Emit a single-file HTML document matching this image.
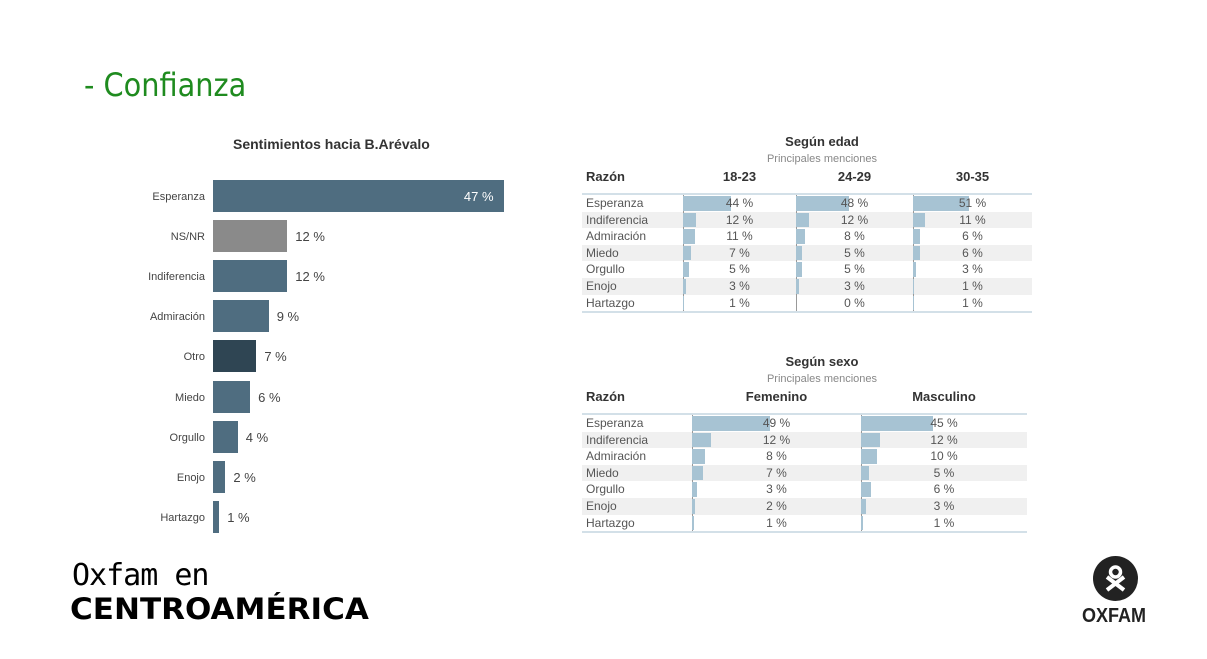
<!DOCTYPE html>
<html><head><meta charset="utf-8"><style>
body{margin:0;width:1207px;height:659px;background:#fff;position:relative;overflow:hidden;font-family:"Liberation Sans",Arial,sans-serif}
.a{position:absolute}
.lab{position:absolute;right:1002px;font-size:11px;color:#444;text-align:right;white-space:nowrap}
.bar{position:absolute;left:213px;height:32px;background:#4f6d80}
.val{position:absolute;font-size:13px;color:#444}
.t{position:absolute;font-size:12px;color:#555}
.hd{position:absolute;font-size:13px;font-weight:bold;color:#333}
</style></head><body>
<div class="a" style="left:84px;top:66px;font-size:32px;color:#1f8b1f;font-family:'DejaVu Sans Condensed','Liberation Sans',sans-serif">- Confianza</div>
<div class="a" style="left:233px;top:136px;font-size:14px;font-weight:bold;color:#333">Sentimientos hacia B.Arévalo</div>
<div id="left"></div>

<div class="a" style="left:582px;top:134px;width:480px;text-align:center;font-size:13px;font-weight:bold;color:#333">Según edad</div>
<div class="a" style="left:582px;top:153px;width:480px;text-align:center;font-size:11px;color:#888">Principales menciones</div>
<div id="t1"></div>

<div class="a" style="left:582px;top:354px;width:480px;text-align:center;font-size:13px;font-weight:bold;color:#333">Según sexo</div>
<div class="a" style="left:582px;top:373px;width:480px;text-align:center;font-size:11px;color:#888">Principales menciones</div>
<div id="t2"></div>

<div class="a" style="left:72px;top:558px;font-size:30px;color:#000;font-family:'DejaVu Sans Mono','Liberation Mono',monospace;letter-spacing:-1px">Oxfam en</div>
<div class="a" style="left:70px;top:592px;font-size:29px;font-weight:900;color:#000;font-family:'DejaVu Sans','Liberation Sans',sans-serif;transform:scaleX(1.07);transform-origin:left">CENTROAMÉRICA</div>

<div class="a" style="left:1093px;top:556px;width:45px;height:45px;border-radius:50%;background:#222"></div>
<svg class="a" style="left:1093px;top:556px" width="45" height="45"><circle cx="22.5" cy="16" r="5" fill="none" stroke="#fff" stroke-width="3.5"/><path d="M14 34 L31 21 M31 34 L14 21" stroke="#fff" stroke-width="4"/></svg>
<div class="a" style="left:1082px;top:605px;font-size:20px;font-weight:bold;color:#222;transform:scaleX(0.9);transform-origin:left">OXFAM</div>

<script>
var L=[["Esperanza",47,"#4f6d80"],["NS/NR",12,"#8a8a8a"],["Indiferencia",12,"#4f6d80"],["Admiración",9,"#4f6d80"],["Otro",7,"#2f4553"],["Miedo",6,"#4f6d80"],["Orgullo",4,"#4f6d80"],["Enojo",2,"#4f6d80"],["Hartazgo",1,"#4f6d80"]];
var h="";
L.forEach(function(r,i){var c=196+i*40.1;var w=r[1]*6.19;
h+='<div class="lab" style="top:'+(c-5)+'px">'+r[0]+'</div>';
h+='<div class="bar" style="top:'+(c-16)+'px;width:'+w+'px;background:'+r[2]+'"></div>';
if(i==0)h+='<div class="val" style="left:'+(213+w-40)+'px;top:'+(c-7)+'px;color:#fff">47 %</div>';
else h+='<div class="val" style="left:'+(213+w+8)+'px;top:'+(c-7)+'px">'+r[1]+' %</div>';});
document.getElementById("left").innerHTML=h;
var names=["Esperanza","Indiferencia","Admiración","Miedo","Orgullo","Enojo","Hartazgo"];
function table(id,top,right,cols,heads,data,sc){
var s='<div class="hd" style="left:586px;top:'+(top-24)+'px">Razón</div>';
s+='<div class="a" style="left:582px;top:'+top+'px;width:'+(right-582)+'px;height:2px;background:#d3e0e8"></div>';
var rh=16.6;
for(var i=0;i<7;i++){var y=top+2+i*rh;
if(i%2==1)s+='<div class="a" style="left:582px;top:'+y+'px;width:'+(right-582)+'px;height:'+rh+'px;background:#f0f0f0"></div>';}
for(var j=0;j<heads.length;j++){var x0=cols[j],x1=cols[j+1];
s+='<div class="hd" style="left:'+x0+'px;width:'+(x1-x0)+'px;text-align:center;top:'+(top-24)+'px">'+heads[j]+'</div>';
s+='<div class="a" style="left:'+x0+'px;top:'+(top+2)+'px;width:1px;height:'+(7*rh)+'px;background:#999"></div>';
for(var i=0;i<7;i++){var y=top+2+i*rh;
s+='<div class="a" style="left:'+x0+'px;top:'+(y+1)+'px;height:'+(rh-2)+'px;width:'+(data[j][i]*sc)+'px;background:#a7c3d3"></div>';
s+='<div class="t" style="left:'+x0+'px;width:'+(x1-x0)+'px;text-align:center;top:'+(y+1)+'px">'+data[j][i]+' %</div>';}}
for(var i=0;i<7;i++){s+='<div class="t" style="left:586px;top:'+(top+3+i*rh)+'px">'+names[i]+'</div>';}
s+='<div class="a" style="left:582px;top:'+(top+2+7*rh)+'px;width:'+(right-582)+'px;height:2px;background:#d3e0e8"></div>';
document.getElementById(id).innerHTML=s;}
table("t1",193,1032,[683,796,913,1032],["18-23","24-29","30-35"],[[44,12,11,7,5,3,1],[48,12,8,5,5,3,0],[51,11,6,6,3,1,1]],1.1);
table("t2",413,1027,[692,861,1027],["Femenino","Masculino"],[[49,12,8,7,3,2,1],[45,12,10,5,6,3,1]],1.6);
</script>
</body></html>
